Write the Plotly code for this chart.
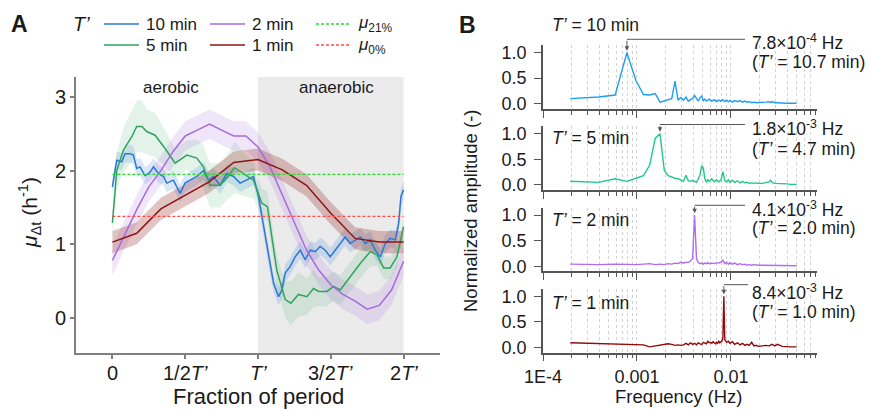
import math
import plotly.graph_objects as go

W, H = 871, 409
FONT = "Liberation Sans, Arial, Helvetica, sans-serif"

# ---------------- Panel A data (fraction of period vs growth rate) ----------------
blue_x = [0.0, 0.03, 0.064, 0.087, 0.121, 0.144, 0.167, 0.19, 0.225, 0.259, 0.282, 0.316, 0.351, 0.373,
          0.419, 0.465, 0.499, 0.534, 0.58, 0.625, 0.66, 0.694, 0.74, 0.786, 0.832, 0.877, 0.923, 0.969,
          1.003, 1.038, 1.072, 1.107, 1.141, 1.164, 1.187, 1.221, 1.255, 1.29, 1.324, 1.359, 1.393, 1.427,
          1.462, 1.496, 1.53, 1.565, 1.599, 1.633, 1.668, 1.702, 1.737, 1.771, 1.805, 1.84, 1.874, 1.908,
          1.943, 1.966, 1.982, 2.0]
blue_y = [1.78, 2.14, 2.12, 2.23, 2.23, 2.21, 2.03, 2.05, 1.93, 1.98, 2.05, 1.96, 1.92, 1.83, 1.87,
          1.69, 1.83, 1.87, 1.92, 2.0, 1.87, 1.92, 1.80, 1.96, 1.92, 1.83, 1.87, 1.92, 1.65, 1.24,
          0.83, 0.47, 0.29, 0.38, 0.61, 0.70, 0.83, 0.92, 0.79, 0.92, 0.90, 0.97, 0.92, 0.83, 0.92,
          1.01, 1.10, 1.01, 1.06, 1.10, 1.01, 1.06, 0.92, 0.83, 1.01, 1.08, 1.06, 1.28, 1.65, 1.74]
blue_band = 0.12

green_x = [0, 0.03, 0.076, 0.133, 0.167, 0.202, 0.236, 0.293, 0.362, 0.431, 0.511, 0.58, 0.625, 0.671,
           0.74, 0.786, 0.838, 0.9, 0.969, 1.026, 1.065, 1.095, 1.129, 1.187, 1.226, 1.278, 1.336, 1.381,
           1.416, 1.473, 1.519, 1.565, 1.633, 1.702, 1.771, 1.817, 1.863, 1.908, 1.954, 2.0]
green_y = [1.29, 2.0, 2.28, 2.46, 2.6, 2.6, 2.53, 2.48, 2.3, 2.1, 2.21, 2.17, 2.05, 1.8, 1.8, 1.9, 2.04,
           1.96, 1.87, 1.56, 1.51, 1.1, 0.65, 0.25, 0.2, 0.32, 0.29, 0.4, 0.36, 0.36, 0.43, 0.38, 0.56,
           0.74, 0.9, 0.86, 0.68, 0.68, 0.83, 1.24]
green_band = [0.15, 0.25, 0.3, 0.35, 0.35, 0.35, 0.3, 0.3, 0.25, 0.2,
              0.2, 0.25, 0.3, 0.3, 0.3, 0.3, 0.35, 0.3, 0.25, 0.2,
              0.2, 0.2, 0.2, 0.25, 0.3, 0.3, 0.25, 0.25, 0.2, 0.2,
              0.2, 0.2, 0.2, 0.2, 0.2, 0.15, 0.15, 0.15, 0.15, 0.1]

purple_x = [0, 0.083, 0.167, 0.25, 0.333, 0.417, 0.5, 0.583, 0.667, 0.75, 0.833, 0.917, 1.0,
            1.083, 1.167, 1.25, 1.333, 1.417, 1.5, 1.583, 1.667, 1.75, 1.833, 1.917, 2.0]
purple_y = [0.78, 1.13, 1.47, 1.78, 2.0, 2.26, 2.47, 2.55, 2.63, 2.55, 2.47, 2.47, 2.32,
            2.05, 1.67, 1.29, 0.92, 0.65, 0.45, 0.32, 0.23, 0.12, 0.17, 0.38, 0.77]
purple_band = 0.2

red_x = [0, 0.167, 0.333, 0.5, 0.667, 0.833, 1.0, 1.167, 1.333, 1.5, 1.667, 1.833, 2.0]
red_y = [1.03, 1.15, 1.48, 1.67, 1.85, 2.11, 2.15, 2.01, 1.80, 1.42, 1.08, 1.03, 1.03]
red_band = 0.15

mu21 = 1.95
mu0 = 1.38

a_tickvals = [0, 0.5, 1, 1.5, 2]
a_ticktext = ["0", "1/2<i>T’</i>", "<i>T’</i>", "3/2<i>T’</i>", "2<i>T’</i>"]
a_yticks = [0, 1, 2, 3]

# ---------------- Panel B data (FFT spectra) ----------------
df_hz = 1 / 5120.0  # frequency resolution of the spectra
bins_common = list(range(1, 31)) + [32, 34, 36, 38, 40, 42, 44, 46, 48, 50, 53, 56, 60, 64, 68, 72, 76,
                                    80, 85, 90, 95, 100, 110, 120, 130, 135, 140, 150, 160, 180, 200,
                                    220, 240, 256]
amp_10 = [0.10, 0.13, 0.17, 1.0, 0.45, 0.18, 0.17, 0.20, 0.03, 0.06,
          0.08, 0.10, 0.44, 0.07, 0.12, 0.07, 0.13, 0.05, 0.08, 0.10,
          0.16, 0.09, 0.05, 0.12, 0.15, 0.06, 0.09, 0.05, 0.08, 0.09,
          0.05, 0.08, 0.04, 0.07, 0.05, 0.08, 0.04, 0.07, 0.04, 0.06,
          0.03, 0.06, 0.04, 0.06, 0.03, 0.05, 0.03, 0.04, 0.02, 0.03,
          0.02, 0.02, 0.02, 0.03, 0.04, 0.02, 0.04, 0.02, 0.02, 0.01,
          0.01, 0.01, 0.01, 0.01]
amp_5 = [0.07, 0.05, 0.12, 0.07, 0.13, 0.18, 0.39, 0.91, 1.0, 0.28,
         0.18, 0.15, 0.13, 0.12, 0.10, 0.07, 0.19, 0.08, 0.07, 0.09,
         0.07, 0.05, 0.12, 0.20, 0.38, 0.33, 0.12, 0.05, 0.10, 0.07,
         0.12, 0.06, 0.10, 0.06, 0.09, 0.26, 0.08, 0.06, 0.10, 0.05,
         0.09, 0.05, 0.08, 0.04, 0.07, 0.04, 0.05, 0.03, 0.04, 0.03,
         0.04, 0.03, 0.03, 0.05, 0.06, 0.09, 0.05, 0.03, 0.03, 0.02,
         0.02, 0.01, 0.01, 0.01]
amp_2 = [0.04, 0.03, 0.04, 0.03, 0.03, 0.04, 0.05, 0.03, 0.04, 0.03,
         0.05, 0.04, 0.06, 0.05, 0.08, 0.06, 0.08, 0.07, 0.10, 0.15,
         1.0, 0.15, 0.07, 0.05, 0.06, 0.04, 0.06, 0.05, 0.07, 0.05,
         0.06, 0.05, 0.07, 0.06, 0.08, 0.12, 0.05, 0.08, 0.04, 0.07,
         0.04, 0.06, 0.03, 0.05, 0.03, 0.04, 0.02, 0.03, 0.02, 0.03,
         0.02, 0.02, 0.02, 0.02, 0.02, 0.02, 0.02, 0.02, 0.01, 0.01,
         0.01, 0.01, 0.01, 0.01]
bins_1 = list(range(1, 46)) + [46, 48, 50, 53, 56, 60, 64, 68, 72, 76, 80, 85, 90, 95, 100, 110, 120,
                               130, 135, 140, 150, 160, 180, 200, 220, 240, 256]
amp_1 = [0.09, 0.08, 0.07, 0.06, 0.06, 0.05, 0.01, 0.03, 0.04, 0.05,
         0.07, 0.06, 0.04, 0.05, 0.04, 0.05, 0.08, 0.05, 0.09, 0.06,
         0.08, 0.05, 0.09, 0.07, 0.06, 0.10, 0.08, 0.07, 0.12, 0.09,
         0.10, 0.08, 0.11, 0.09, 0.07, 0.10, 0.08, 0.12, 0.09, 0.11,
         0.12, 0.18, 1.0, 0.15, 0.12,
         0.10, 0.12, 0.08, 0.11, 0.06, 0.09, 0.05, 0.08, 0.04, 0.06,
         0.04, 0.10, 0.03, 0.04, 0.02, 0.03, 0.04, 0.03, 0.04, 0.06,
         0.03, 0.06, 0.02, 0.01, 0.01, 0.01, 0.01]

spectra = [
    ("10", bins_common, amp_10, "#1E9FF0", "7.8", "-4", "10.7"),
    ("5", bins_common, amp_5, "#1FC98A", "1.8", "-3", "4.7"),
    ("2", bins_common, amp_2, "#B26BF2", "4.1", "-3", "2.0"),
    ("1", bins_1, amp_1, "#8E0B0B", "8.4", "-3", "1.0"),
]

# ---------------- layout geometry (pixels -> paper) ----------------
def px(x):
    return x / W

def py(y):
    return 1 - y / H

A_left, A_right, A_top, A_bottom = 76, 440, 77, 353
B_left, B_right = 543, 816.5
B_xrange = [-4, -1.09]
B_yrange = [-0.1, 1.15]
B_panels = [(45.0, 108.8), (126.2, 190.0), (207.5, 271.3), (288.7, 352.5)]

BLUE, GREEN, PURPLE, DRED = "#2B78D6", "#2EA45C", "#A66BDB", "#8B1414"


def band_trace(xs, ys, hw, color):
    hws = hw if isinstance(hw, list) else [hw] * len(xs)
    up = [y + h for y, h in zip(ys, hws)]
    lo = [y - h for y, h in zip(ys, hws)]
    return go.Scatter(x=list(xs) + list(xs[::-1]), y=up + lo[::-1], fill="toself",
                      fillcolor=color, line=dict(width=0), mode="lines",
                      hoverinfo="skip", showlegend=False, xaxis="x", yaxis="y")


fig = go.Figure()

# Panel A traces
fig.add_trace(band_trace(blue_x, blue_y, blue_band, "rgba(43,120,214,0.18)"))
fig.add_trace(band_trace(green_x, green_y, green_band, "rgba(46,164,92,0.13)"))
fig.add_trace(band_trace(purple_x, purple_y, purple_band, "rgba(166,107,219,0.17)"))
fig.add_trace(band_trace(red_x, red_y, red_band, "rgba(139,20,20,0.25)"))
for xs, ys, c in [(blue_x, blue_y, BLUE), (green_x, green_y, GREEN),
                  (purple_x, purple_y, PURPLE), (red_x, red_y, DRED)]:
    fig.add_trace(go.Scatter(x=xs, y=ys, mode="lines", line=dict(color=c, width=1.5),
                             showlegend=False, xaxis="x", yaxis="y"))
fig.add_trace(go.Scatter(x=[0, 2], y=[mu21, mu21], mode="lines",
                         line=dict(color="#2BD92B", width=1.3, dash="3px,2px"),
                         showlegend=False, xaxis="x", yaxis="y"))
fig.add_trace(go.Scatter(x=[0, 2], y=[mu0, mu0], mode="lines",
                         line=dict(color="#FF4B4B", width=1.3, dash="3px,2px"),
                         showlegend=False, xaxis="x", yaxis="y"))

# Panel B traces
for i, (lab, bins, amps, col, fstr, fexp, tstr) in enumerate(spectra):
    fig.add_trace(go.Scatter(x=[b * df_hz for b in bins], y=amps, mode="lines",
                             line=dict(color=col, width=1.4), showlegend=False,
                             xaxis=f"x{i + 2}", yaxis=f"y{i + 2}"))

AXCOL_A = "#808080"
layout = dict(
    width=W, height=H, autosize=False,
    margin=dict(l=0, r=0, t=0, b=0, pad=0, autoexpand=False),
    paper_bgcolor="white", plot_bgcolor="rgba(0,0,0,0)",
    font=dict(family=FONT, color="#1a1a1a"),
    showlegend=False,
    xaxis=dict(domain=[px(A_left), px(A_right)], range=[-0.25, 2.25], anchor="y",
               tickmode="array", tickvals=a_tickvals, showticklabels=False,
               ticks="outside", ticklen=4, tickcolor=AXCOL_A, tickwidth=1.5, automargin=False,
               showline=True, linecolor=AXCOL_A, linewidth=2, showgrid=False, zeroline=False),
    yaxis=dict(domain=[py(A_bottom), py(A_top)], range=[-0.475, 3.27], anchor="x",
               tickmode="array", tickvals=a_yticks, automargin=False,
               ticks="outside", ticklen=4, tickcolor=AXCOL_A, tickwidth=1.5,
               showline=True, linecolor=AXCOL_A, linewidth=2, showgrid=False, zeroline=False,
               tickfont=dict(size=20, family=FONT, color="#1a1a1a")),
)

major_vals = [1e-4, 1e-3, 1e-2]
minor_vals = [m * 10.0 ** e for e in (-4, -3, -2) for m in range(2, 10) if m * 10.0 ** e < 0.081]
GRIDC = "#d2d2d2"
for i, (top, bot) in enumerate(B_panels):
    n = i + 2
    last = (i == len(B_panels) - 1)
    layout[f"xaxis{n}"] = dict(
        domain=[px(B_left), px(B_right)], type="log", range=B_xrange, anchor=f"y{n}",
        tickmode="array", tickvals=major_vals, ticktext=["1E-4", "0.001", "0.01"],
        showticklabels=last, ticks="outside", ticklen=7, tickwidth=1.3, tickcolor="#555",
        automargin=False,
        showline=True, linecolor="#555", linewidth=1.5, zeroline=False,
        showgrid=True, gridcolor=GRIDC, griddash="3px,3px", gridwidth=1,
        minor=dict(tickmode="array", tickvals=minor_vals, ticks="outside", ticklen=4,
                   tickwidth=1.1, tickcolor="#555", showgrid=True, gridcolor=GRIDC,
                   griddash="3px,3px", gridwidth=1),
        tickfont=dict(size=18, family=FONT, color="#1a1a1a"))
    layout[f"yaxis{n}"] = dict(
        domain=[py(bot), py(top)], range=B_yrange, anchor=f"x{n}", automargin=False,
        tickmode="array", tickvals=[0, 0.5, 1.0], ticktext=["0.0", "0.5", "1.0"],
        ticks="outside", ticklen=7, tickwidth=1.3, tickcolor="#555", ticklabelstandoff=4,
        showline=True, linecolor="#555", linewidth=1.5, zeroline=False, showgrid=False,
        tickfont=dict(size=18, family=FONT, color="#1a1a1a"))

fig.update_layout(**layout)

shapes = []
annotations = []

# anaerobic shaded region
shapes.append(dict(type="rect", xref="x", yref="y domain", x0=1, x1=2, y0=0, y1=1,
                   fillcolor="#EBEBEB", line=dict(width=0), layer="below"))

def txt(x, y, text, size, xanchor="center", yanchor="middle", angle=0, **kw):
    annotations.append(dict(x=px(x), y=py(y), xref="paper", yref="paper", text=text,
                            showarrow=False, xanchor=xanchor, yanchor=yanchor, textangle=angle,
                            font=dict(size=size, family=FONT, color="#1a1a1a"), **kw))

# panel A x tick labels (placed on the data positions of the ticks)
for v, t in zip(a_tickvals, a_ticktext):
    annotations.append(dict(x=v, y=py(373), xref="x", yref="paper", text=t, showarrow=False,
                            xanchor="center", yanchor="middle",
                            font=dict(size=20, family=FONT, color="#1a1a1a")))

# panel letters
txt(19, 24, "<b>A</b>", 23)
txt(467, 25, "<b>B</b>", 23)

# panel A region labels
annotations.append(dict(x=0.4, y=3.13, xref="x", yref="y", text="aerobic", showarrow=False,
                        font=dict(size=17, family=FONT, color="#1a1a1a")))
annotations.append(dict(x=1.54, y=3.13, xref="x", yref="y", text="anaerobic", showarrow=False,
                        font=dict(size=17, family=FONT, color="#1a1a1a")))

# axis titles
txt(258, 396, "Fraction of period", 22)
txt(30, 212, "<i>μ</i><sub>Δt</sub> (h<sup>-1</sup>)", 21, angle=-90)
txt(678, 396, "Frequency (Hz)", 18.5)
txt(470, 210, "Normalized amplitude (-)", 18.5, angle=-90)

# legend (manual)
txt(81, 24, "<i>T’</i>", 20)
leg = [(104, 24, BLUE, "solid", "10 min"), (104, 45, GREEN, "solid", "5 min"),
       (210, 24, PURPLE, "solid", "2 min"), (210, 45, DRED, "solid", "1 min"),
       (316, 24, "#2BD92B", "3px,2px", "<i>μ</i><sub>21%</sub>"),
       (316, 45, "#FF4B4B", "3px,2px", "<i>μ</i><sub>0%</sub>")]
for x0, y0, c, d, label in leg:
    shapes.append(dict(type="line", xref="paper", yref="paper", x0=px(x0), x1=px(x0 + 35),
                       y0=py(y0), y1=py(y0), line=dict(color=c, width=1.5, dash=d)))
    txt(x0 + 40, y0 + 0.5, label, 17, xanchor="left")

# panel B labels and peak annotations
label_y = [25, 138, 220, 303]
conn_y = [39.3, 124.5, 205.3, 284.7]
conn_x1 = [745, 745, 745, 748]
text_y1 = [42, 128, 209, 291.5]
text_y2 = [61.5, 149, 228, 311.5]

def bx(f):
    return px(B_left) + (math.log10(f) - B_xrange[0]) / (B_xrange[1] - B_xrange[0]) * (px(B_right) - px(B_left))

for i, (lab, bins, amps, col, fstr, fexp, tstr) in enumerate(spectra):
    n = i + 2
    top, bot = B_panels[i]
    txt(550, label_y[i], f"<i>T’</i> = {lab} min", 17.5, xanchor="left")
    k = amps.index(max(amps))
    fpk = bins[k] * df_hz
    ypk_px = top + (B_yrange[1] - amps[k]) / (B_yrange[1] - B_yrange[0]) * (bot - top)
    annotations.append(dict(x=math.log10(fpk), y=amps[k], xref=f"x{n}", yref=f"y{n}", text="",
                            showarrow=True, ax=0, ay=-(ypk_px - conn_y[i]), arrowhead=2,
                            arrowsize=0.9, arrowwidth=1, arrowcolor="#555", standoff=2))
    shapes.append(dict(type="line", xref="paper", yref="paper", x0=bx(fpk), x1=px(conn_x1[i]),
                       y0=py(conn_y[i]), y1=py(conn_y[i]), line=dict(color="#555", width=1)))
    txt(750, text_y1[i], f"{fstr}×10<sup>{fexp}</sup> Hz", 17.5, xanchor="left")
    txt(750, text_y2[i], f"(<i>T’</i> = {tstr} min)", 17.5, xanchor="left")

fig.update_layout(shapes=shapes, annotations=annotations)
fig.write_html("out.html", config={"responsive": False, "displayModeBar": False},
               post_script="document.body.style.margin='0';document.body.style.padding='0';")
